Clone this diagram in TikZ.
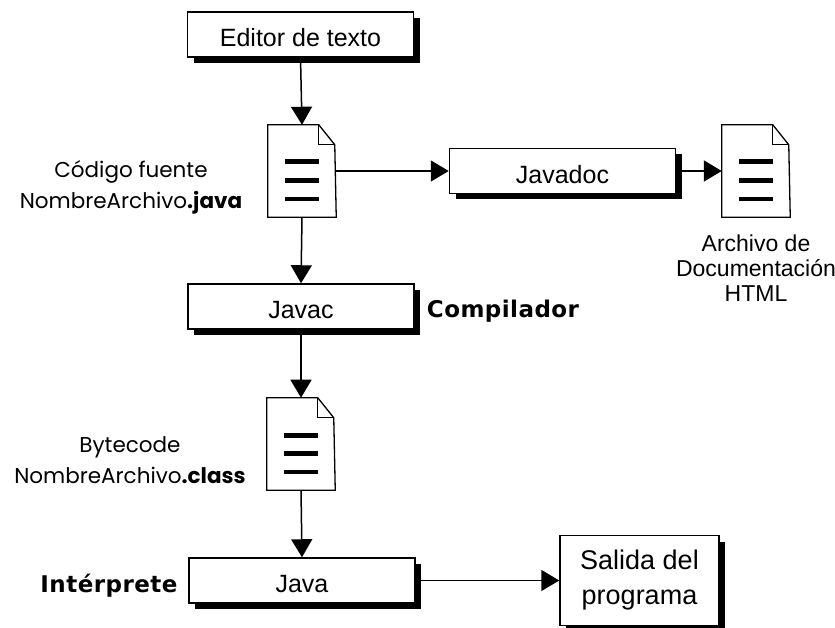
\documentclass[tikz,border=0pt]{standalone}
\usepackage{fontspec}
\setmainfont{Liberation Sans}
\newfontfamily\roundfont{Poppins}
\newfontfamily\headfont[LetterSpace=2]{DejaVu Sans}
\usetikzlibrary{arrows.meta,shadows}

% sheet outline, fold and text bars on a named document node
\newcommand{\docsheet}[1]{
  \draw[line width=1.3pt, line join=miter, fill=white] (#1.north west) -- ++(51,0) -- ++(16,-20) -- (#1.south east) -- (#1.south west) -- cycle;
  \draw[line width=1.1pt] (#1.north west) ++(51,0) -- ++(0,-20) -- ++(16,0);
  \draw[line width=5pt] ([xshift=-17pt,yshift=9pt]#1.center) -- ([xshift=17pt,yshift=9pt]#1.center);
  \draw[line width=4.5pt] ([xshift=-17pt,yshift=-9.5pt]#1.center) -- ([xshift=17pt,yshift=-9.5pt]#1.center);
  \draw[line width=4.5pt] ([xshift=-17pt,yshift=-28pt]#1.center) -- ([xshift=17pt,yshift=-28pt]#1.center);
}

\begin{document}
\begin{tikzpicture}[
      x=1pt, y=1pt,
      >={Triangle[length=18pt,width=21pt]},
      line width=1.5pt,
      main node/.style={draw, fill=white, line width=1.5pt, align=center, minimum width=226pt, minimum height=45pt, inner sep=0pt,
        font=\fontsize{25}{35}\selectfont, drop shadow={shadow xshift=6pt, shadow yshift=-6pt, fill=black, opacity=1}},
      doc node/.style={minimum width=67pt, minimum height=91pt, inner sep=0pt},
      file label/.style={align=center, font=\roundfont\fontsize{21.5}{31}\selectfont},
      role label/.style={font=\headfont\bfseries\fontsize{23}{25}\selectfont}
    ]
    \useasboundingbox (0,0) rectangle (835,627);

    % Main column
    \node (editor) [main node, text height=25pt] at (300.5,592.5) {Editor de texto};
    \node (fuente) [doc node, node distance=136.5pt, below of=editor, xshift=1.5pt] {};
    \node (javac) [main node, text height=25pt, node distance=135.5pt, below of=fuente, xshift=-1pt] {Javac};
    \node (bytecode) [doc node, node distance=137.5pt, below of=javac] {};
    \node (java) [main node, text height=25pt, node distance=136.5pt, below of=bytecode, xshift=1pt] {Java};

    % Side branches
    \node (javadoc) [main node, text height=25pt, node distance=260.5pt, right of=fuente] {Javadoc};
    \node (html) [doc node, node distance=193.5pt, right of=javadoc] {};
    \node (salida) [main node, font=\fontsize{27}{35}\selectfont, minimum width=159pt, minimum height=90pt, node distance=337.5pt, right of=java] {Salida del\\programa};

    \docsheet{fuente}
    \docsheet{html}
    \docsheet{bytecode}

    % Labels
    \node (fuentetxt) [file label, node distance=171pt, left of=fuente, yshift=-16pt] {Código fuente\\NombreArchivo{\bfseries.java}};
    \node (bytetxt) [file label, node distance=171pt, left of=bytecode, yshift=-16pt] {Bytecode\\NombreArchivo{\bfseries.class}};
    \node (htmltxt) [align=center, font=\fontsize{23}{25}\selectfont, node distance=97pt, below of=html] {Archivo de\\Documentación\\HTML};
    \node (compilador) [role label, node distance=202pt, right of=javac, yshift=-5pt] {Compilador};
    \node (interprete) [role label, node distance=193pt, left of=java, yshift=-5pt] {Intérprete};

    % Connectors
    \draw[->] (editor.south) -- (fuente.north);
    \draw[->] (fuente.east) -- (javadoc.west);
    \draw[->, line width=2.2pt] (javadoc.east) -- (html.west);
    \draw[->] (fuente.south) -- (javac.north);
    \draw[->] (javac.south) -- (bytecode.north);
    \draw[->] (bytecode.south) -- (java.north);
    \draw[->] (java.east) -- (salida.west);
  \end{tikzpicture}
\end{document}
